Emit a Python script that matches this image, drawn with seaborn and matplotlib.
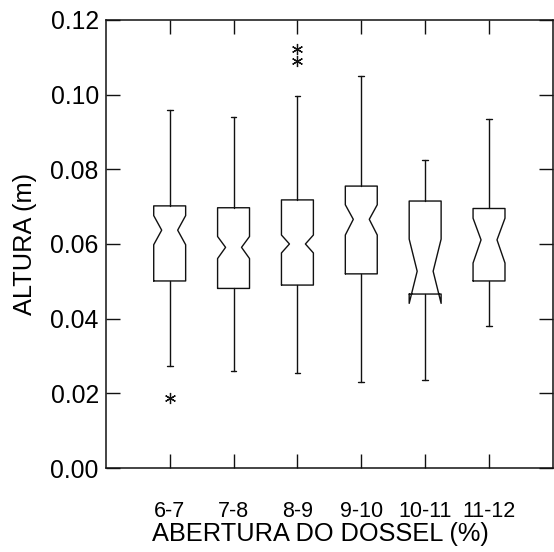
import matplotlib
matplotlib.use("Agg")
import matplotlib.pyplot as plt
import seaborn as sns
import numpy as np

categories = ["6-7", "7-8", "8-9", "9-10", "10-11", "11-12"]
whisker_low = [0.0274, 0.0260, 0.0255, 0.0230, 0.0235, 0.0381]
q1 = [0.0501, 0.0481, 0.0490, 0.0520, 0.0466, 0.0501]
median = [0.0637, 0.0591, 0.0600, 0.0666, 0.0527, 0.0611]
q3 = [0.0702, 0.0697, 0.0718, 0.0755, 0.0715, 0.0695]
whisker_high = [0.0959, 0.0941, 0.0996, 0.1051, 0.0824, 0.0935]
notch_low = [0.0598, 0.0561, 0.0576, 0.0624, 0.0441, 0.0549]
notch_high = [0.0676, 0.0620, 0.0624, 0.0705, 0.0613, 0.0669]
outliers = [[0.0188], [], [0.1091, 0.1122], [], [], []]

sns.set_style("ticks")
plt.rcParams["font.family"] = ["Liberation Sans", "DejaVu Sans"]

stats = []
for i, c in enumerate(categories):
    stats.append(dict(label=c, whislo=whisker_low[i], q1=q1[i], med=median[i],
                      q3=q3[i], whishi=whisker_high[i], cilo=notch_low[i],
                      cihi=notch_high[i], fliers=outliers[i]))

fig = plt.figure(figsize=(5.54, 5.52), dpi=100)
ax = fig.add_axes([0.191, 0.152, 0.807, 0.812])

lc = "#111111"
ax.bxp(stats, positions=range(len(categories)), widths=0.5, shownotches=True,
       capwidths=0.09,
       boxprops=dict(color=lc, linewidth=1.0),
       whiskerprops=dict(color=lc, linewidth=1.0),
       capprops=dict(color=lc, linewidth=1.0),
       medianprops=dict(linewidth=0),
       flierprops=dict(marker=(6, 2, 0), markersize=8, markeredgecolor=lc,
                       markerfacecolor=lc, markeredgewidth=0.9, linestyle="none"))

ax.set_xlim(-1, 6)
ax.set_ylim(0, 0.12)
ax.set_yticks([0.0, 0.02, 0.04, 0.06, 0.08, 0.10, 0.12])
ax.set_yticklabels(["0.00", "0.02", "0.04", "0.06", "0.08", "0.10", "0.12"])
ax.set_xticks(range(len(categories)))
ax.set_xticklabels(categories)

for s in ax.spines.values():
    s.set_visible(True)
    s.set_color(lc)
    s.set_linewidth(1.1)

ax.tick_params(axis="y", direction="in", length=10, width=1.0, color=lc,
               left=True, right=True, labelsize=17.8, pad=5, labelcolor="black")
ax.tick_params(axis="x", direction="in", length=10, width=1.0, color=lc,
               bottom=True, top=True, labelsize=15.5, pad=23.5, labelcolor="black")

ax.set_xlabel("ABERTURA DO DOSSEL (%)", fontsize=18.3, labelpad=0.5, color="black")
ax.xaxis.label.set_x(0.479)
ax.set_ylabel("ALTURA (m)", fontsize=18.3, labelpad=10, color="black")

fig.savefig("out.png", dpi=100)
